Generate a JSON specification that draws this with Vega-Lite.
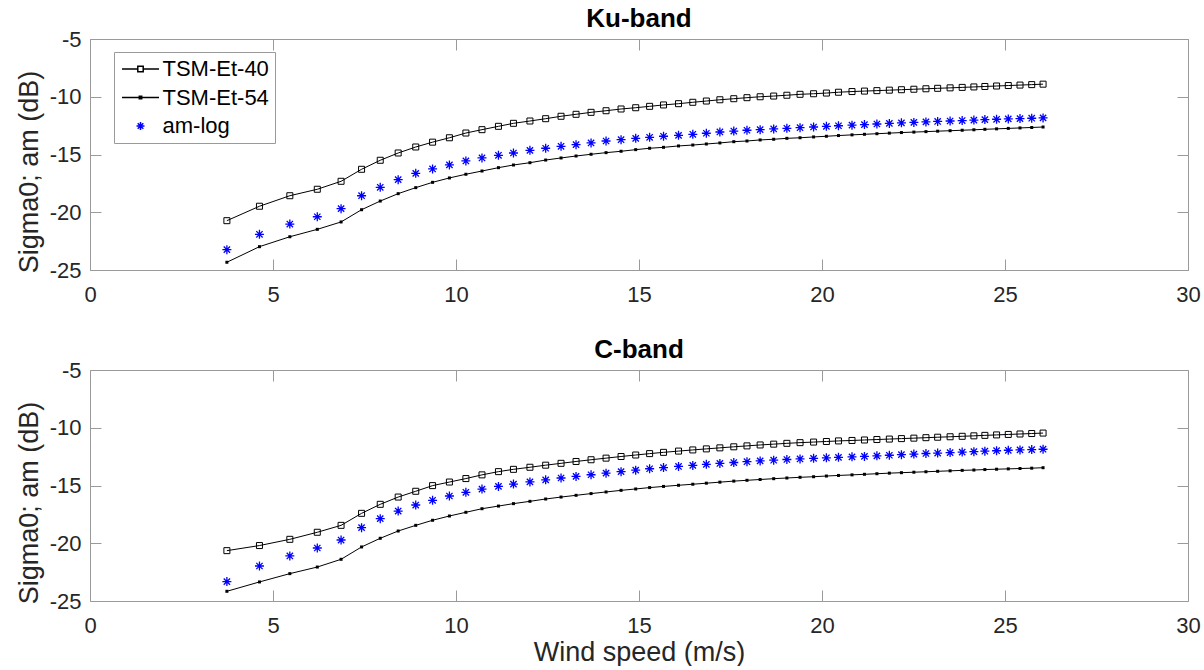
{
  "$schema": "https://vega.github.io/schema/vega-lite/v6.json",
  "padding": {"left": 15, "top": 6, "right": 5, "bottom": 0},
  "background": "white",
  "config": {
    "font": "Liberation Sans",
    "view": {"stroke": null},
    "axis": {
      "grid": false,
      "domainColor": "#9a9a9a",
      "domainWidth": 1,
      "tickColor": "#9a9a9a",
      "tickWidth": 1,
      "tickSize": -11,
      "labelFont": "Liberation Sans",
      "labelFontSize": 22,
      "labelColor": "#262626",
      "titleFont": "Liberation Sans",
      "titleFontSize": 27,
      "titleFontWeight": "normal",
      "titleColor": "#262626",
      "labelFlush": false,
      "labelOverlap": false
    },
    "axisX": {"labelPadding": 25, "titleBaseline": "alphabetic", "titleY": 59.7},
    "axisY": {"labelPadding": 20, "titleX": -52.5, "titleY": 132.5, "titleBaseline": "alphabetic", "titleAlign": "center", "titleAngle": 270},
    "title": {"font": "Liberation Sans", "fontSize": 26, "fontWeight": "bold", "color": "#000000", "offset": -4, "baseline": "alphabetic"}
  },
  "datasets": {
    "ku": [
      {"series":"TSM-Et-40","wind":3.74,"sigma":-20.73},{"series":"TSM-Et-40","wind":4.63,"sigma":-19.48},{"series":"TSM-Et-40","wind":5.46,"sigma":-18.57},{"series":"TSM-Et-40","wind":6.21,"sigma":-18.01},{"series":"TSM-Et-40","wind":6.86,"sigma":-17.32},{"series":"TSM-Et-40","wind":7.42,"sigma":-16.28},{"series":"TSM-Et-40","wind":7.93,"sigma":-15.50},{"series":"TSM-Et-40","wind":8.42,"sigma":-14.87},{"series":"TSM-Et-40","wind":8.90,"sigma":-14.35},{"series":"TSM-Et-40","wind":9.36,"sigma":-13.93},
      {"series":"TSM-Et-40","wind":9.82,"sigma":-13.55},{"series":"TSM-Et-40","wind":10.27,"sigma":-13.14},{"series":"TSM-Et-40","wind":10.71,"sigma":-12.85},{"series":"TSM-Et-40","wind":11.16,"sigma":-12.56},{"series":"TSM-Et-40","wind":11.57,"sigma":-12.30},{"series":"TSM-Et-40","wind":12.02,"sigma":-12.10},{"series":"TSM-Et-40","wind":12.45,"sigma":-11.90},{"series":"TSM-Et-40","wind":12.87,"sigma":-11.69},{"series":"TSM-Et-40","wind":13.28,"sigma":-11.52},{"series":"TSM-Et-40","wind":13.69,"sigma":-11.35},
      {"series":"TSM-Et-40","wind":14.10,"sigma":-11.21},{"series":"TSM-Et-40","wind":14.51,"sigma":-11.06},{"series":"TSM-Et-40","wind":14.91,"sigma":-10.95},{"series":"TSM-Et-40","wind":15.29,"sigma":-10.83},{"series":"TSM-Et-40","wind":15.67,"sigma":-10.71},{"series":"TSM-Et-40","wind":16.08,"sigma":-10.60},{"series":"TSM-Et-40","wind":16.47,"sigma":-10.48},{"series":"TSM-Et-40","wind":16.84,"sigma":-10.37},{"series":"TSM-Et-40","wind":17.21,"sigma":-10.26},{"series":"TSM-Et-40","wind":17.59,"sigma":-10.17},
      {"series":"TSM-Et-40","wind":17.95,"sigma":-10.08},{"series":"TSM-Et-40","wind":18.31,"sigma":-10.00},{"series":"TSM-Et-40","wind":18.68,"sigma":-9.94},{"series":"TSM-Et-40","wind":19.04,"sigma":-9.87},{"series":"TSM-Et-40","wind":19.40,"sigma":-9.79},{"series":"TSM-Et-40","wind":19.77,"sigma":-9.74},{"series":"TSM-Et-40","wind":20.12,"sigma":-9.68},{"series":"TSM-Et-40","wind":20.45,"sigma":-9.61},{"series":"TSM-Et-40","wind":20.82,"sigma":-9.55},{"series":"TSM-Et-40","wind":21.16,"sigma":-9.51},
      {"series":"TSM-Et-40","wind":21.50,"sigma":-9.47},{"series":"TSM-Et-40","wind":21.84,"sigma":-9.43},{"series":"TSM-Et-40","wind":22.17,"sigma":-9.39},{"series":"TSM-Et-40","wind":22.51,"sigma":-9.35},{"series":"TSM-Et-40","wind":22.84,"sigma":-9.31},{"series":"TSM-Et-40","wind":23.16,"sigma":-9.27},{"series":"TSM-Et-40","wind":23.50,"sigma":-9.23},{"series":"TSM-Et-40","wind":23.83,"sigma":-9.19},{"series":"TSM-Et-40","wind":24.15,"sigma":-9.15},{"series":"TSM-Et-40","wind":24.45,"sigma":-9.11},
      {"series":"TSM-Et-40","wind":24.77,"sigma":-9.07},{"series":"TSM-Et-40","wind":25.09,"sigma":-9.03},{"series":"TSM-Et-40","wind":25.41,"sigma":-8.99},{"series":"TSM-Et-40","wind":25.73,"sigma":-8.95},{"series":"TSM-Et-40","wind":26.04,"sigma":-8.91},

      {"series":"TSM-Et-54","wind":3.74,"sigma":-24.33},{"series":"TSM-Et-54","wind":4.63,"sigma":-22.98},{"series":"TSM-Et-54","wind":5.46,"sigma":-22.12},{"series":"TSM-Et-54","wind":6.21,"sigma":-21.48},{"series":"TSM-Et-54","wind":6.86,"sigma":-20.84},{"series":"TSM-Et-54","wind":7.42,"sigma":-19.78},{"series":"TSM-Et-54","wind":7.93,"sigma":-19.03},{"series":"TSM-Et-54","wind":8.42,"sigma":-18.39},{"series":"TSM-Et-54","wind":8.90,"sigma":-17.87},{"series":"TSM-Et-54","wind":9.36,"sigma":-17.41},
      {"series":"TSM-Et-54","wind":9.82,"sigma":-17.03},{"series":"TSM-Et-54","wind":10.27,"sigma":-16.71},{"series":"TSM-Et-54","wind":10.71,"sigma":-16.43},{"series":"TSM-Et-54","wind":11.16,"sigma":-16.14},{"series":"TSM-Et-54","wind":11.57,"sigma":-15.91},{"series":"TSM-Et-54","wind":12.02,"sigma":-15.71},{"series":"TSM-Et-54","wind":12.45,"sigma":-15.48},{"series":"TSM-Et-54","wind":12.87,"sigma":-15.30},{"series":"TSM-Et-54","wind":13.28,"sigma":-15.13},{"series":"TSM-Et-54","wind":13.69,"sigma":-14.98},
      {"series":"TSM-Et-54","wind":14.10,"sigma":-14.84},{"series":"TSM-Et-54","wind":14.51,"sigma":-14.72},{"series":"TSM-Et-54","wind":14.91,"sigma":-14.58},{"series":"TSM-Et-54","wind":15.29,"sigma":-14.46},{"series":"TSM-Et-54","wind":15.67,"sigma":-14.38},{"series":"TSM-Et-54","wind":16.08,"sigma":-14.26},{"series":"TSM-Et-54","wind":16.47,"sigma":-14.18},{"series":"TSM-Et-54","wind":16.84,"sigma":-14.09},{"series":"TSM-Et-54","wind":17.21,"sigma":-14.00},{"series":"TSM-Et-54","wind":17.59,"sigma":-13.89},
      {"series":"TSM-Et-54","wind":17.95,"sigma":-13.83},{"series":"TSM-Et-54","wind":18.31,"sigma":-13.74},{"series":"TSM-Et-54","wind":18.68,"sigma":-13.68},{"series":"TSM-Et-54","wind":19.04,"sigma":-13.60},{"series":"TSM-Et-54","wind":19.40,"sigma":-13.55},{"series":"TSM-Et-54","wind":19.77,"sigma":-13.48},{"series":"TSM-Et-54","wind":20.12,"sigma":-13.42},{"series":"TSM-Et-54","wind":20.45,"sigma":-13.36},{"series":"TSM-Et-54","wind":20.82,"sigma":-13.30},{"series":"TSM-Et-54","wind":21.16,"sigma":-13.25},
      {"series":"TSM-Et-54","wind":21.50,"sigma":-13.20},{"series":"TSM-Et-54","wind":21.84,"sigma":-13.15},{"series":"TSM-Et-54","wind":22.17,"sigma":-13.10},{"series":"TSM-Et-54","wind":22.51,"sigma":-13.06},{"series":"TSM-Et-54","wind":22.84,"sigma":-13.02},{"series":"TSM-Et-54","wind":23.16,"sigma":-12.98},{"series":"TSM-Et-54","wind":23.50,"sigma":-12.94},{"series":"TSM-Et-54","wind":23.83,"sigma":-12.90},{"series":"TSM-Et-54","wind":24.15,"sigma":-12.86},{"series":"TSM-Et-54","wind":24.45,"sigma":-12.82},
      {"series":"TSM-Et-54","wind":24.77,"sigma":-12.78},{"series":"TSM-Et-54","wind":25.09,"sigma":-12.74},{"series":"TSM-Et-54","wind":25.41,"sigma":-12.70},{"series":"TSM-Et-54","wind":25.73,"sigma":-12.66},{"series":"TSM-Et-54","wind":26.04,"sigma":-12.62},

      {"series":"am-log","wind":3.74,"sigma":-23.24},{"series":"am-log","wind":4.63,"sigma":-21.91},{"series":"am-log","wind":5.46,"sigma":-21.02},{"series":"am-log","wind":6.21,"sigma":-20.39},{"series":"am-log","wind":6.86,"sigma":-19.69},{"series":"am-log","wind":7.42,"sigma":-18.57},{"series":"am-log","wind":7.93,"sigma":-17.84},{"series":"am-log","wind":8.42,"sigma":-17.18},{"series":"am-log","wind":8.90,"sigma":-16.63},{"series":"am-log","wind":9.36,"sigma":-16.25},
      {"series":"am-log","wind":9.82,"sigma":-15.90},{"series":"am-log","wind":10.27,"sigma":-15.56},{"series":"am-log","wind":10.71,"sigma":-15.30},{"series":"am-log","wind":11.16,"sigma":-15.07},{"series":"am-log","wind":11.57,"sigma":-14.87},{"series":"am-log","wind":12.02,"sigma":-14.64},{"series":"am-log","wind":12.45,"sigma":-14.46},{"series":"am-log","wind":12.87,"sigma":-14.29},{"series":"am-log","wind":13.28,"sigma":-14.15},{"series":"am-log","wind":13.69,"sigma":-14.00},
      {"series":"am-log","wind":14.10,"sigma":-13.83},{"series":"am-log","wind":14.51,"sigma":-13.72},{"series":"am-log","wind":14.91,"sigma":-13.60},{"series":"am-log","wind":15.29,"sigma":-13.51},{"series":"am-log","wind":15.67,"sigma":-13.42},{"series":"am-log","wind":16.08,"sigma":-13.34},{"series":"am-log","wind":16.47,"sigma":-13.25},{"series":"am-log","wind":16.84,"sigma":-13.16},{"series":"am-log","wind":17.21,"sigma":-13.05},{"series":"am-log","wind":17.59,"sigma":-12.97},
      {"series":"am-log","wind":17.95,"sigma":-12.90},{"series":"am-log","wind":18.31,"sigma":-12.85},{"series":"am-log","wind":18.68,"sigma":-12.79},{"series":"am-log","wind":19.04,"sigma":-12.73},{"series":"am-log","wind":19.40,"sigma":-12.68},{"series":"am-log","wind":19.77,"sigma":-12.62},{"series":"am-log","wind":20.12,"sigma":-12.56},{"series":"am-log","wind":20.45,"sigma":-12.51},{"series":"am-log","wind":20.82,"sigma":-12.46},{"series":"am-log","wind":21.16,"sigma":-12.41},
      {"series":"am-log","wind":21.50,"sigma":-12.36},{"series":"am-log","wind":21.84,"sigma":-12.31},{"series":"am-log","wind":22.17,"sigma":-12.26},{"series":"am-log","wind":22.51,"sigma":-12.22},{"series":"am-log","wind":22.84,"sigma":-12.18},{"series":"am-log","wind":23.16,"sigma":-12.14},{"series":"am-log","wind":23.50,"sigma":-12.10},{"series":"am-log","wind":23.83,"sigma":-12.06},{"series":"am-log","wind":24.15,"sigma":-12.02},{"series":"am-log","wind":24.45,"sigma":-11.98},
      {"series":"am-log","wind":24.77,"sigma":-11.95},{"series":"am-log","wind":25.09,"sigma":-11.92},{"series":"am-log","wind":25.41,"sigma":-11.89},{"series":"am-log","wind":25.73,"sigma":-11.86},{"series":"am-log","wind":26.04,"sigma":-11.83}
    ],
    "c": [
      {"series":"TSM-Et-40","wind":3.74,"sigma":-20.64},{"series":"TSM-Et-40","wind":4.63,"sigma":-20.20},{"series":"TSM-Et-40","wind":5.46,"sigma":-19.66},{"series":"TSM-Et-40","wind":6.21,"sigma":-19.05},{"series":"TSM-Et-40","wind":6.86,"sigma":-18.45},{"series":"TSM-Et-40","wind":7.42,"sigma":-17.41},{"series":"TSM-Et-40","wind":7.93,"sigma":-16.63},{"series":"TSM-Et-40","wind":8.42,"sigma":-16.00},{"series":"TSM-Et-40","wind":8.90,"sigma":-15.50},{"series":"TSM-Et-40","wind":9.36,"sigma":-15.01},
      {"series":"TSM-Et-40","wind":9.82,"sigma":-14.70},{"series":"TSM-Et-40","wind":10.27,"sigma":-14.40},{"series":"TSM-Et-40","wind":10.71,"sigma":-14.08},{"series":"TSM-Et-40","wind":11.16,"sigma":-13.80},{"series":"TSM-Et-40","wind":11.57,"sigma":-13.60},{"series":"TSM-Et-40","wind":12.02,"sigma":-13.42},{"series":"TSM-Et-40","wind":12.45,"sigma":-13.24},{"series":"TSM-Et-40","wind":12.87,"sigma":-13.08},{"series":"TSM-Et-40","wind":13.28,"sigma":-12.92},{"series":"TSM-Et-40","wind":13.69,"sigma":-12.77},
      {"series":"TSM-Et-40","wind":14.10,"sigma":-12.63},{"series":"TSM-Et-40","wind":14.51,"sigma":-12.49},{"series":"TSM-Et-40","wind":14.91,"sigma":-12.36},{"series":"TSM-Et-40","wind":15.29,"sigma":-12.24},{"series":"TSM-Et-40","wind":15.67,"sigma":-12.13},{"series":"TSM-Et-40","wind":16.08,"sigma":-12.02},{"series":"TSM-Et-40","wind":16.47,"sigma":-11.92},{"series":"TSM-Et-40","wind":16.84,"sigma":-11.83},{"series":"TSM-Et-40","wind":17.21,"sigma":-11.74},{"series":"TSM-Et-40","wind":17.59,"sigma":-11.65},
      {"series":"TSM-Et-40","wind":17.95,"sigma":-11.57},{"series":"TSM-Et-40","wind":18.31,"sigma":-11.49},{"series":"TSM-Et-40","wind":18.68,"sigma":-11.42},{"series":"TSM-Et-40","wind":19.04,"sigma":-11.35},{"series":"TSM-Et-40","wind":19.40,"sigma":-11.29},{"series":"TSM-Et-40","wind":19.77,"sigma":-11.24},{"series":"TSM-Et-40","wind":20.12,"sigma":-11.19},{"series":"TSM-Et-40","wind":20.45,"sigma":-11.14},{"series":"TSM-Et-40","wind":20.82,"sigma":-11.10},{"series":"TSM-Et-40","wind":21.16,"sigma":-11.06},
      {"series":"TSM-Et-40","wind":21.50,"sigma":-11.02},{"series":"TSM-Et-40","wind":21.84,"sigma":-10.98},{"series":"TSM-Et-40","wind":22.17,"sigma":-10.94},{"series":"TSM-Et-40","wind":22.51,"sigma":-10.90},{"series":"TSM-Et-40","wind":22.84,"sigma":-10.86},{"series":"TSM-Et-40","wind":23.16,"sigma":-10.82},{"series":"TSM-Et-40","wind":23.50,"sigma":-10.78},{"series":"TSM-Et-40","wind":23.83,"sigma":-10.74},{"series":"TSM-Et-40","wind":24.15,"sigma":-10.70},{"series":"TSM-Et-40","wind":24.45,"sigma":-10.66},
      {"series":"TSM-Et-40","wind":24.77,"sigma":-10.62},{"series":"TSM-Et-40","wind":25.09,"sigma":-10.58},{"series":"TSM-Et-40","wind":25.41,"sigma":-10.54},{"series":"TSM-Et-40","wind":25.73,"sigma":-10.50},{"series":"TSM-Et-40","wind":26.04,"sigma":-10.46},

      {"series":"TSM-Et-54","wind":3.74,"sigma":-24.16},{"series":"TSM-Et-54","wind":4.63,"sigma":-23.35},{"series":"TSM-Et-54","wind":5.46,"sigma":-22.63},{"series":"TSM-Et-54","wind":6.21,"sigma":-22.06},{"series":"TSM-Et-54","wind":6.86,"sigma":-21.39},{"series":"TSM-Et-54","wind":7.42,"sigma":-20.32},{"series":"TSM-Et-54","wind":7.93,"sigma":-19.57},{"series":"TSM-Et-54","wind":8.42,"sigma":-18.94},{"series":"TSM-Et-54","wind":8.90,"sigma":-18.45},{"series":"TSM-Et-54","wind":9.36,"sigma":-18.01},
      {"series":"TSM-Et-54","wind":9.82,"sigma":-17.64},{"series":"TSM-Et-54","wind":10.27,"sigma":-17.32},{"series":"TSM-Et-54","wind":10.71,"sigma":-17.01},{"series":"TSM-Et-54","wind":11.16,"sigma":-16.78},{"series":"TSM-Et-54","wind":11.57,"sigma":-16.57},{"series":"TSM-Et-54","wind":12.02,"sigma":-16.37},{"series":"TSM-Et-54","wind":12.45,"sigma":-16.17},{"series":"TSM-Et-54","wind":12.87,"sigma":-16.00},{"series":"TSM-Et-54","wind":13.28,"sigma":-15.85},{"series":"TSM-Et-54","wind":13.69,"sigma":-15.70},
      {"series":"TSM-Et-54","wind":14.10,"sigma":-15.56},{"series":"TSM-Et-54","wind":14.51,"sigma":-15.42},{"series":"TSM-Et-54","wind":14.91,"sigma":-15.30},{"series":"TSM-Et-54","wind":15.29,"sigma":-15.18},{"series":"TSM-Et-54","wind":15.67,"sigma":-15.08},{"series":"TSM-Et-54","wind":16.08,"sigma":-14.98},{"series":"TSM-Et-54","wind":16.47,"sigma":-14.89},{"series":"TSM-Et-54","wind":16.84,"sigma":-14.80},{"series":"TSM-Et-54","wind":17.21,"sigma":-14.71},{"series":"TSM-Et-54","wind":17.59,"sigma":-14.62},
      {"series":"TSM-Et-54","wind":17.95,"sigma":-14.55},{"series":"TSM-Et-54","wind":18.31,"sigma":-14.48},{"series":"TSM-Et-54","wind":18.68,"sigma":-14.41},{"series":"TSM-Et-54","wind":19.04,"sigma":-14.35},{"series":"TSM-Et-54","wind":19.40,"sigma":-14.29},{"series":"TSM-Et-54","wind":19.77,"sigma":-14.24},{"series":"TSM-Et-54","wind":20.12,"sigma":-14.18},{"series":"TSM-Et-54","wind":20.45,"sigma":-14.13},{"series":"TSM-Et-54","wind":20.82,"sigma":-14.08},{"series":"TSM-Et-54","wind":21.16,"sigma":-14.03},
      {"series":"TSM-Et-54","wind":21.50,"sigma":-13.98},{"series":"TSM-Et-54","wind":21.84,"sigma":-13.93},{"series":"TSM-Et-54","wind":22.17,"sigma":-13.89},{"series":"TSM-Et-54","wind":22.51,"sigma":-13.85},{"series":"TSM-Et-54","wind":22.84,"sigma":-13.81},{"series":"TSM-Et-54","wind":23.16,"sigma":-13.77},{"series":"TSM-Et-54","wind":23.50,"sigma":-13.73},{"series":"TSM-Et-54","wind":23.83,"sigma":-13.69},{"series":"TSM-Et-54","wind":24.15,"sigma":-13.66},{"series":"TSM-Et-54","wind":24.45,"sigma":-13.62},
      {"series":"TSM-Et-54","wind":24.77,"sigma":-13.59},{"series":"TSM-Et-54","wind":25.09,"sigma":-13.56},{"series":"TSM-Et-54","wind":25.41,"sigma":-13.53},{"series":"TSM-Et-54","wind":25.73,"sigma":-13.50},{"series":"TSM-Et-54","wind":26.04,"sigma":-13.46},

      {"series":"am-log","wind":3.74,"sigma":-23.32},{"series":"am-log","wind":4.63,"sigma":-21.97},{"series":"am-log","wind":5.46,"sigma":-21.10},{"series":"am-log","wind":6.21,"sigma":-20.41},{"series":"am-log","wind":6.86,"sigma":-19.72},{"series":"am-log","wind":7.42,"sigma":-18.65},{"series":"am-log","wind":7.93,"sigma":-17.87},{"series":"am-log","wind":8.42,"sigma":-17.21},{"series":"am-log","wind":8.90,"sigma":-16.69},{"series":"am-log","wind":9.36,"sigma":-16.28},
      {"series":"am-log","wind":9.82,"sigma":-15.91},{"series":"am-log","wind":10.27,"sigma":-15.59},{"series":"am-log","wind":10.71,"sigma":-15.31},{"series":"am-log","wind":11.16,"sigma":-15.08},{"series":"am-log","wind":11.57,"sigma":-14.88},{"series":"am-log","wind":12.02,"sigma":-14.69},{"series":"am-log","wind":12.45,"sigma":-14.51},{"series":"am-log","wind":12.87,"sigma":-14.35},{"series":"am-log","wind":13.28,"sigma":-14.21},{"series":"am-log","wind":13.69,"sigma":-14.07},
      {"series":"am-log","wind":14.10,"sigma":-13.93},{"series":"am-log","wind":14.51,"sigma":-13.80},{"series":"am-log","wind":14.91,"sigma":-13.67},{"series":"am-log","wind":15.29,"sigma":-13.55},{"series":"am-log","wind":15.67,"sigma":-13.45},{"series":"am-log","wind":16.08,"sigma":-13.35},{"series":"am-log","wind":16.47,"sigma":-13.26},{"series":"am-log","wind":16.84,"sigma":-13.17},{"series":"am-log","wind":17.21,"sigma":-13.09},{"series":"am-log","wind":17.59,"sigma":-13.01},
      {"series":"am-log","wind":17.95,"sigma":-12.94},{"series":"am-log","wind":18.31,"sigma":-12.87},{"series":"am-log","wind":18.68,"sigma":-12.81},{"series":"am-log","wind":19.04,"sigma":-12.75},{"series":"am-log","wind":19.40,"sigma":-12.70},{"series":"am-log","wind":19.77,"sigma":-12.65},{"series":"am-log","wind":20.12,"sigma":-12.60},{"series":"am-log","wind":20.45,"sigma":-12.56},{"series":"am-log","wind":20.82,"sigma":-12.52},{"series":"am-log","wind":21.16,"sigma":-12.48},
      {"series":"am-log","wind":21.50,"sigma":-12.43},{"series":"am-log","wind":21.84,"sigma":-12.38},{"series":"am-log","wind":22.17,"sigma":-12.33},{"series":"am-log","wind":22.51,"sigma":-12.28},{"series":"am-log","wind":22.84,"sigma":-12.23},{"series":"am-log","wind":23.16,"sigma":-12.19},{"series":"am-log","wind":23.50,"sigma":-12.15},{"series":"am-log","wind":23.83,"sigma":-12.11},{"series":"am-log","wind":24.15,"sigma":-12.07},{"series":"am-log","wind":24.45,"sigma":-12.03},
      {"series":"am-log","wind":24.77,"sigma":-11.99},{"series":"am-log","wind":25.09,"sigma":-11.95},{"series":"am-log","wind":25.41,"sigma":-11.92},{"series":"am-log","wind":25.73,"sigma":-11.89},{"series":"am-log","wind":26.04,"sigma":-11.86}
    ]
  },
  "spacing": 100,
  "bounds": "flush",
  "resolve": {"scale": {"color": "independent", "shape": "independent"}},
  "vconcat": [
    {
      "width": 1098,
      "height": 231,
      "data": {"name": "ku"},
      "title": {"text": "Ku-band"},
      "layer": [
        {
          "transform": [{"filter": "datum.series !== 'am-log'"}],
          "mark": {"type": "line", "color": "#000000", "strokeWidth": 1},
          "encoding": {
            "x": {"field": "wind", "type": "quantitative", "scale": {"domain": [0, 30], "nice": false}, "axis": {"orient": "bottom", "values": [0, 5, 10, 15, 20, 25, 30], "title": null, "labelExpr": "'' + datum.value"}},
            "y": {"field": "sigma", "type": "quantitative", "scale": {"domain": [-25, -5], "nice": false, "zero": false}, "axis": {"orient": "left", "values": [-25, -20, -15, -10, -5], "title": "Sigma0; am (dB)", "labelExpr": "'' + datum.value"}},
            "detail": {"field": "series"}
          }
        },
        {
          "transform": [{"filter": "datum.series === 'TSM-Et-40'"}],
          "mark": {"type": "point", "shape": "square", "filled": false, "size": 36, "stroke": "#000000", "strokeWidth": 1, "opacity": 1},
          "encoding": {
            "x": {"field": "wind", "type": "quantitative", "axis": null},
            "y": {"field": "sigma", "type": "quantitative", "axis": null}
          }
        },
        {
          "transform": [{"filter": "datum.series === 'TSM-Et-54'"}],
          "mark": {"type": "point", "shape": "square", "filled": true, "size": 9, "fill": "#000000", "opacity": 1},
          "encoding": {
            "x": {"field": "wind", "type": "quantitative", "axis": null},
            "y": {"field": "sigma", "type": "quantitative", "axis": null}
          }
        },
        {
          "transform": [{"filter": "datum.series === 'am-log'"}],
          "mark": {"type": "point", "shape": "M0,-1L0,1M-1,0L1,0M-0.7,-0.7L0.7,0.7M-0.7,0.7L0.7,-0.7", "filled": false, "size": 81, "stroke": "#0000ff", "strokeWidth": 1.3, "opacity": 1},
          "encoding": {
            "x": {"field": "wind", "type": "quantitative", "axis": null},
            "y": {"field": "sigma", "type": "quantitative", "axis": null}
          }
        },
        {
          "mark": {"type": "point", "opacity": 0, "filled": false},
          "encoding": {
            "x": {"field": "wind", "type": "quantitative", "axis": {"orient": "top", "values": [0, 5, 10, 15, 20, 25, 30], "labels": false, "title": null}},
            "y": {"field": "sigma", "type": "quantitative", "axis": {"orient": "right", "values": [-25, -20, -15, -10, -5], "labels": false, "title": null}},
            "shape": {
              "field": "series", "type": "nominal",
              "scale": {"domain": ["TSM-Et-40", "TSM-Et-54", "am-log"], "range": ["M-1.85,0L-0.27,0M0.27,0L1.85,0M-0.27,-0.27L0.27,-0.27L0.27,0.27L-0.27,0.27Z", "M-1.85,0L1.85,0M-0.12,-0.12L0.12,-0.12L0.12,0.12L-0.12,0.12Z", "M0,-0.4L0,0.4M-0.4,0L0.4,0M-0.28,-0.28L0.28,0.28M-0.28,0.28L0.28,-0.28"]},
              "legend": {
                "title": null,
                "orient": "none",
                "direction": "vertical",
                "legendX": 24,
                "legendY": 13,
                "padding": 6,
                "symbolOffset": 9.5,
                "labelOffset": 11,
                "symbolSize": 400,
                "rowPadding": 6.5,
                "labelFont": "Liberation Sans",
                "labelFontSize": 22,
                "labelColor": "#000000",
                "strokeColor": "#9a9a9a",
                "fillColor": "#ffffff",
                "encode": {
                  "symbols": {
                    "update": {
                      "strokeWidth": {"value": 1},
                      "opacity": {"value": 1}
                    }
                  }
                }
              }
            },
            "color": {
              "field": "series", "type": "nominal",
              "scale": {"domain": ["TSM-Et-40", "TSM-Et-54", "am-log"], "range": ["#000000", "#000000", "#0000ff"]},
              "legend": {
                "title": null,
                "orient": "none",
                "direction": "vertical",
                "legendX": 24,
                "legendY": 13,
                "padding": 6,
                "symbolOffset": 9.5,
                "labelOffset": 11,
                "symbolSize": 400,
                "rowPadding": 6.5,
                "labelFont": "Liberation Sans",
                "labelFontSize": 22,
                "labelColor": "#000000",
                "strokeColor": "#9a9a9a",
                "fillColor": "#ffffff",
                "encode": {
                  "symbols": {
                    "update": {
                      "strokeWidth": {"value": 1},
                      "opacity": {"value": 1}
                    }
                  }
                }
              }
            }
          }
        }
      ],
      "resolve": {"axis": {"x": "independent", "y": "independent"}}
    },
    {
      "width": 1098,
      "height": 231,
      "data": {"name": "c"},
      "title": {"text": "C-band"},
      "layer": [
        {
          "transform": [{"filter": "datum.series !== 'am-log'"}],
          "mark": {"type": "line", "color": "#000000", "strokeWidth": 1},
          "encoding": {
            "x": {"field": "wind", "type": "quantitative", "scale": {"domain": [0, 30], "nice": false}, "axis": {"orient": "bottom", "values": [0, 5, 10, 15, 20, 25, 30], "title": "Wind speed (m/s)", "labelExpr": "'' + datum.value"}},
            "y": {"field": "sigma", "type": "quantitative", "scale": {"domain": [-25, -5], "nice": false, "zero": false}, "axis": {"orient": "left", "values": [-25, -20, -15, -10, -5], "title": "Sigma0; am (dB)", "labelExpr": "'' + datum.value"}},
            "detail": {"field": "series"}
          }
        },
        {
          "transform": [{"filter": "datum.series === 'TSM-Et-40'"}],
          "mark": {"type": "point", "shape": "square", "filled": false, "size": 36, "stroke": "#000000", "strokeWidth": 1, "opacity": 1},
          "encoding": {
            "x": {"field": "wind", "type": "quantitative", "axis": null},
            "y": {"field": "sigma", "type": "quantitative", "axis": null}
          }
        },
        {
          "transform": [{"filter": "datum.series === 'TSM-Et-54'"}],
          "mark": {"type": "point", "shape": "square", "filled": true, "size": 9, "fill": "#000000", "opacity": 1},
          "encoding": {
            "x": {"field": "wind", "type": "quantitative", "axis": null},
            "y": {"field": "sigma", "type": "quantitative", "axis": null}
          }
        },
        {
          "transform": [{"filter": "datum.series === 'am-log'"}],
          "mark": {"type": "point", "shape": "M0,-1L0,1M-1,0L1,0M-0.7,-0.7L0.7,0.7M-0.7,0.7L0.7,-0.7", "filled": false, "size": 81, "stroke": "#0000ff", "strokeWidth": 1.3, "opacity": 1},
          "encoding": {
            "x": {"field": "wind", "type": "quantitative", "axis": null},
            "y": {"field": "sigma", "type": "quantitative", "axis": null}
          }
        },
        {
          "mark": {"type": "point", "opacity": 0},
          "encoding": {
            "x": {"field": "wind", "type": "quantitative", "axis": {"orient": "top", "values": [0, 5, 10, 15, 20, 25, 30], "labels": false, "title": null}},
            "y": {"field": "sigma", "type": "quantitative", "axis": {"orient": "right", "values": [-25, -20, -15, -10, -5], "labels": false, "title": null}}
          }
        }
      ],
      "resolve": {"axis": {"x": "independent", "y": "independent"}}
    }
  ]
}
